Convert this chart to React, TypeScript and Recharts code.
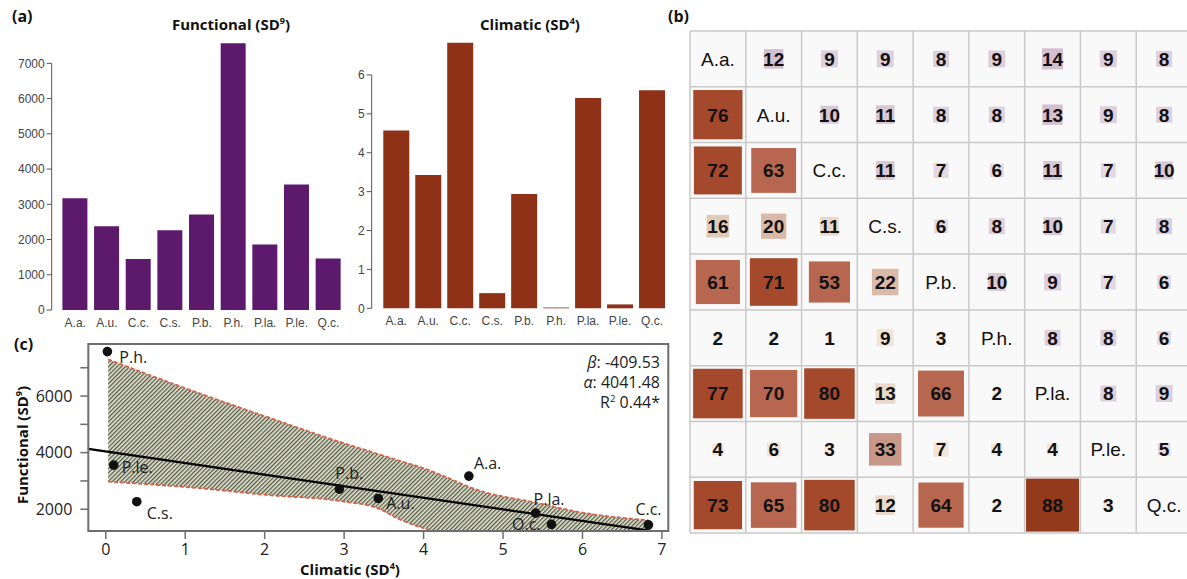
import React from 'react';
import {
  BarChart,
  Bar,
  XAxis,
  YAxis,
  ComposedChart,
  Area,
  Scatter,
  ScatterChart,
  ReferenceLine,
  ReferenceArea,
} from 'recharts';

// species order used everywhere
const species = ['A.a.', 'A.u.', 'C.c.', 'C.s.', 'P.b.', 'P.h.', 'P.la.', 'P.le.', 'Q.c.'];
const functional = [3170, 2380, 1445, 2266, 2711, 7572, 1861, 3560, 1464];
const climatic = [4.57, 3.43, 6.83, 0.39, 2.94, 0.02, 5.41, 0.1, 5.61];

const functionalTicks = [0, 1000, 2000, 3000, 4000, 5000, 6000, 7000];
const climaticTicks = [0, 1, 2, 3, 4, 5, 6];
const scatterXTicks = [0, 1, 2, 3, 4, 5, 6, 7];
const scatterYTicks = [2000, 3000, 4000, 5000, 6000, 7000];

// hatched band of panel (c)
const bandX = [0.03, 1.18, 2.02, 3.0, 3.42, 3.7, 4.0, 4.2, 4.7, 5.42, 5.96, 6.83];
const bandLow = [2975, 2742, 2505, 2270, 2036, 1640, 1330, 1190, 900, 700, 550, 400];
const bandHigh = [7295, 6095, 5270, 4330, 3960, 3710, 3448, 3230, 2660, 2230, 1900, 1610];

// fitted line end points (beta -409.53, alpha 4041.48)
const fitX = [-0.22, 6.86];
const fitY = [4130, 1235];

// overlap matrix (%), diagonal = species name
const overlap: (number | null)[][] = [
  [null, 12, 9, 9, 8, 9, 14, 9, 8],
  [76, null, 10, 11, 8, 8, 13, 9, 8],
  [72, 63, null, 11, 7, 6, 11, 7, 10],
  [16, 20, 11, null, 6, 8, 10, 7, 8],
  [61, 71, 53, 22, null, 10, 9, 7, 6],
  [2, 2, 1, 9, 3, null, 8, 8, 6],
  [77, 70, 80, 13, 66, 2, null, 8, 9],
  [4, 6, 3, 33, 7, 4, 4, null, 5],
  [73, 65, 80, 12, 64, 2, 88, 3, null],
];
const gridLines = [0, 1, 2, 3, 4, 5, 6, 7, 8, 9];

const colors = {
  functional: '#5d1a6c',
  climatic: '#8e3117',
  axis: '#555555',
  box: '#6e6e6e',
  text: '#222222',
  bandStroke: '#d4634a',
  regression: '#000000',
};

const HELV = '"Liberation Sans", Arial, sans-serif';
const MYRIAD = '"Open Sans", "Noto Sans", sans-serif';

// label offsets for the scatter points (px)
const pointLabel: Record<string, { dx: number; dy: number; anchor: 'start' | 'end' }> = {
  'P.h.': { dx: 12, dy: 11, anchor: 'start' },
  'P.le.': { dx: 8, dy: 8, anchor: 'start' },
  'C.s.': { dx: 10, dy: 17, anchor: 'start' },
  'P.b.': { dx: -4, dy: -10, anchor: 'start' },
  'A.u.': { dx: 8, dy: 11, anchor: 'start' },
  'A.a.': { dx: 5, dy: -7, anchor: 'start' },
  'P.la.': { dx: -2, dy: -8, anchor: 'start' },
  'Q.c.': { dx: -11, dy: 6, anchor: 'end' },
  'C.c.': { dx: -13, dy: -10, anchor: 'start' },
};

function lowerColor(v: number) {
  if (v >= 85) return '#943a1c';
  if (v >= 71) return '#a5492d';
  if (v >= 50) return '#b7674f';
  if (v >= 30) return '#c99787';
  if (v >= 20) return '#d9b9a7';
  if (v >= 14) return '#e1cab7';
  if (v >= 10) return '#ead9ca';
  return '#f1e5d9';
}

function upperColor(v: number) {
  if (v >= 12) return '#d3bfd0';
  if (v >= 10) return '#d8c7d5';
  if (v >= 8) return '#ddcfdb';
  return '#e4d9e2';
}

const SQUARE_K = 5.65; // square side = k * sqrt(value)

function Sup({ children }: { children: React.ReactNode }) {
  return <span style={{ fontSize: '0.6em', verticalAlign: 'super', lineHeight: 0 }}>{children}</span>;
}

function Title({ cx, cy, children }: { cx: number; cy: number; children: React.ReactNode }) {
  return (
    <div
      style={{
        position: 'absolute',
        left: cx - 120,
        top: cy - 9,
        width: 240,
        height: 18,
        lineHeight: '18px',
        textAlign: 'center',
        fontFamily: MYRIAD,
        fontWeight: 700,
        fontSize: 15,
        color: '#111',
        whiteSpace: 'nowrap',
      }}
    >
      {children}
    </div>
  );
}

function PanelTag({ x, y, text }: { x: number; y: number; text: string }) {
  return (
    <div
      style={{
        position: 'absolute',
        left: x,
        top: y - 11,
        lineHeight: '22px',
        fontFamily: MYRIAD,
        fontWeight: 700,
        fontSize: 16,
        color: '#111',
      }}
    >
      {text}
    </div>
  );
}

// ---------- panel (a) bar charts ----------

interface BarPanelProps {
  values: number[];
  color: string;
  ticks: number[];
  max: number;
  left: number;
  marginTop: number;
  xAxisHeight: number;
  padLeft: number;
  marginRight: number;
  barSize: number;
  labelMargin: number;
}

const BAR_W = 350;
const BAR_H = 340;
const BAR_Y_W = 51.7;

function makeBarTick(plotH: number, max: number, last: number) {
  // R-style y axis: the axis line only spans the labelled ticks
  return (props: any) => {
    const { x, y, payload, index } = props;
    const axisX = x + 5 + 2;
    return (
      <g>
        {index === 0 && (
          <line x1={axisX} x2={axisX} y1={y} y2={y - (plotH * last) / max} stroke={colors.axis} strokeWidth={1} />
        )}
        <text x={x} y={y} dy="0.355em" textAnchor="end" fontSize={12} fontFamily={HELV} fill="#444">
          {payload.value}
        </text>
      </g>
    );
  };
}

function BarPanel(p: BarPanelProps) {
  const data = species.map((name, i) => ({ name, value: p.values[i] }));
  const plotH = BAR_H - p.marginTop - p.xAxisHeight;
  return (
    <div style={{ position: 'absolute', left: p.left, top: 0 }}>
      <BarChart
        width={BAR_W}
        height={BAR_H}
        data={data}
        margin={{ top: p.marginTop, right: p.marginRight, bottom: 0, left: 0 }}
      >
        <XAxis
          dataKey="name"
          axisLine={false}
          tickLine={false}
          tickSize={0}
          tickMargin={p.labelMargin}
          interval={0}
          height={p.xAxisHeight}
          padding={{ left: p.padLeft, right: 0 }}
          tick={{ fontSize: 12, fill: '#444', fontFamily: HELV }}
        />
        <YAxis
          width={BAR_Y_W}
          domain={[0, p.max]}
          ticks={p.ticks}
          interval={0}
          axisLine={false}
          tickSize={5}
          tickMargin={2}
          stroke={colors.axis}
          tick={makeBarTick(plotH, p.max, p.ticks[p.ticks.length - 1])}
        />
        <Bar dataKey="value" fill={p.color} barSize={p.barSize} isAnimationActive={false} />
      </BarChart>
    </div>
  );
}

// ---------- panel (b) overlap matrix ----------

function MatrixCell(props: any) {
  const { cx, cy, payload } = props;
  if (payload.r === payload.c) {
    return (
      <text x={cx} y={cy} dy="0.36em" textAnchor="middle" fontSize={19} fontFamily={HELV} fill="#111">
        {species[payload.r]}
      </text>
    );
  }
  const side = SQUARE_K * Math.sqrt(payload.value);
  const fill = payload.c > payload.r ? upperColor(payload.value) : lowerColor(payload.value);
  return (
    <g>
      <rect x={cx - side / 2} y={cy - side / 2} width={side} height={side} fill={fill} />
      <text x={cx} y={cy} dy="0.36em" textAnchor="middle" fontSize={19} fontWeight="bold" fontFamily={HELV} fill="#111">
        {payload.value}
      </text>
    </g>
  );
}

function MatrixPanel() {
  const cells: { col: number; row: number; r: number; c: number; value: number | null }[] = [];
  overlap.forEach((row, r) =>
    row.forEach((value, c) => cells.push({ col: c + 0.5, row: r + 0.5, r, c, value })),
  );
  return (
    <div style={{ position: 'absolute', left: 689, top: 30 }}>
      <ScatterChart width={504} height={504} margin={{ top: 1, right: 1, bottom: 1, left: 1 }}>
        <XAxis dataKey="col" type="number" domain={[0, 9]} hide />
        <YAxis dataKey="row" type="number" domain={[0, 9]} reversed hide />
        <ReferenceArea x1={0} x2={9} y1={0} y2={9} fill="#f9f9f9" fillOpacity={1} stroke="none" zIndex={-500} />
        {gridLines.map((g) => (
          <ReferenceLine key={'v' + g} x={g} stroke="#c9c9c9" strokeWidth={1.5} zIndex={-400} />
        ))}
        {gridLines.map((g) => (
          <ReferenceLine key={'h' + g} y={g} stroke="#c9c9c9" strokeWidth={1.5} zIndex={-400} />
        ))}
        <Scatter data={cells} shape={<MatrixCell />} isAnimationActive={false} />
      </ScatterChart>
    </div>
  );
}

// ---------- panel (c) scatter with band ----------

function PointShape(props: any) {
  const { cx, cy, payload } = props;
  const off = pointLabel[payload.name];
  return (
    <g>
      <circle cx={cx} cy={cy} r={4.8} fill="#111" />
      <text
        x={cx + off.dx}
        y={cy + off.dy}
        textAnchor={off.anchor}
        fontSize={16}
        fontFamily={MYRIAD}
        fill={colors.text}
      >
        {payload.name}
      </text>
    </g>
  );
}

const X_MIN = -0.22;
const X_MAX = 7.08;
const Y_MIN = 1230;
const Y_MAX = 7840;

function ScatterPanel() {
  const bandData = bandX.map((x, i) => ({ x, range: [bandLow[i], bandHigh[i]] }));
  const points = species.map((name, i) => ({ name, x: climatic[i], y: functional[i] }));
  return (
    <div style={{ position: 'absolute', left: 0, top: 330 }}>
      <ComposedChart
        width={690}
        height={249}
        data={bandData}
        margin={{ top: 14, right: 21.7, bottom: 0, left: 0 }}
      >
        <defs>
          <pattern id="hatch" patternUnits="userSpaceOnUse" width={3} height={3} patternTransform="rotate(45)">
            <rect x={0} y={0} width={3} height={3} fill="#d2ceb4" fillOpacity={0.6} />
            <rect x={0} y={0} width={1.3} height={3} fill="#3a432c" fillOpacity={0.85} />
          </pattern>
        </defs>
        <XAxis
          dataKey="x"
          type="number"
          domain={[X_MIN, X_MAX]}
          ticks={scatterXTicks}
          interval={0}
          allowDataOverflow
          axisLine={false}
          height={48}
          tickSize={8}
          tickMargin={5}
          stroke={colors.box}
          tickLine={{ strokeWidth: 1.5 }}
          tick={{ fontSize: 16, fill: colors.text, fontFamily: MYRIAD }}
        />
        <YAxis
          type="number"
          domain={[Y_MIN, Y_MAX]}
          ticks={scatterYTicks}
          interval={0}
          allowDataOverflow
          axisLine={false}
          width={88.3}
          tickSize={8}
          tickMargin={8}
          stroke={colors.box}
          tickLine={{ strokeWidth: 1.5 }}
          tickFormatter={(v: number) => (v % 2000 === 0 ? String(v) : '')}
          tick={{ fontSize: 16, fill: colors.text, fontFamily: MYRIAD }}
        />
        <Area
          dataKey="range"
          type="monotone"
          fill="url(#hatch)"
          fillOpacity={1}
          stroke={colors.bandStroke}
          strokeWidth={1.8}
          strokeDasharray="4 2"
          dot={false}
          activeDot={false}
          isAnimationActive={false}
          zIndex={100}
        />
        <ReferenceLine
          segment={[
            { x: fitX[0], y: fitY[0] },
            { x: fitX[1], y: fitY[1] },
          ]}
          stroke={colors.regression}
          strokeWidth={2.2}
          ifOverflow="hidden"
          zIndex={300}
        />
        <Scatter data={points} dataKey="y" shape={<PointShape />} isAnimationActive={false} zIndex={350} />
        <ReferenceArea
          x1={X_MIN}
          x2={X_MAX}
          y1={Y_MIN}
          y2={Y_MAX}
          fill="none"
          stroke={colors.box}
          strokeWidth={2}
          ifOverflow="visible"
          zIndex={400}
        />
      </ComposedChart>
    </div>
  );
}

export default function App() {
  return (
    <div
      style={{
        position: 'absolute',
        left: 0,
        top: 0,
        width: 1187,
        height: 579,
        overflow: 'hidden',
        background: '#fff',
        fontFamily: MYRIAD,
      }}
    >
      <BarPanel
        values={functional}
        color={colors.functional}
        ticks={functionalTicks}
        max={7600}
        left={0}
        marginTop={42.2}
        xAxisHeight={30}
        padLeft={7.7}
        marginRight={5.7}
        barSize={25}
        labelMargin={8}
      />
      <BarPanel
        values={climatic}
        color={colors.climatic}
        ticks={climaticTicks}
        max={6.84}
        left={320}
        marginTop={42.3}
        xAxisHeight={31.7}
        padLeft={8.6}
        marginRight={2}
        barSize={26}
        labelMargin={8.5}
      />
      <MatrixPanel />
      <ScatterPanel />

      <PanelTag x={12} y={16} text="(a)" />
      <PanelTag x={668} y={16} text="(b)" />
      <PanelTag x={14} y={344} text="(c)" />

      <Title cx={231} cy={24}>
        Functional (SD<Sup>9</Sup>)
      </Title>
      <Title cx={530} cy={24}>
        Climatic (SD<Sup>4</Sup>)
      </Title>
      <Title cx={350} cy={569}>
        Climatic (SD<Sup>4</Sup>)
      </Title>
      <div style={{ position: 'absolute', left: 22 - 120, top: 445 - 9, width: 240, transform: 'rotate(-90deg)' }}>
        <div
          style={{
            height: 18,
            lineHeight: '18px',
            textAlign: 'center',
            fontFamily: MYRIAD,
            fontWeight: 700,
            fontSize: 15,
            color: '#111',
          }}
        >
          Functional (SD<Sup>9</Sup>)
        </div>
      </div>

      <div
        style={{
          position: 'absolute',
          right: 1187 - 660,
          top: 352,
          textAlign: 'right',
          fontFamily: MYRIAD,
          fontSize: 16,
          lineHeight: '20px',
          color: colors.text,
          whiteSpace: 'nowrap',
        }}
      >
        <div style={{ height: 20 }}>
          <i>β</i>: -409.53
        </div>
        <div style={{ height: 20 }}>
          <i>α</i>: 4041.48
        </div>
        <div style={{ height: 20 }}>
          R<Sup>2</Sup> 0.44*
        </div>
      </div>
    </div>
  );
}
